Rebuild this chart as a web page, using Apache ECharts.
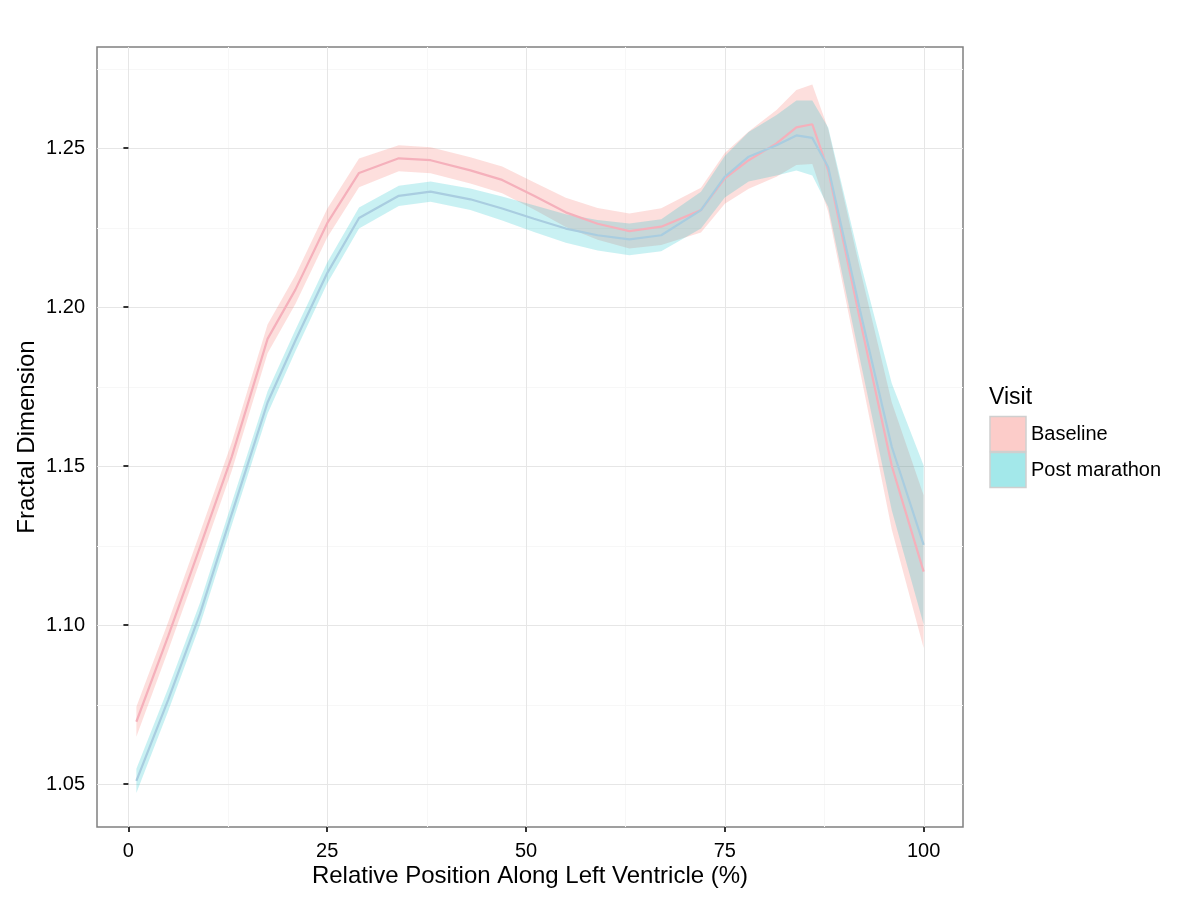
<!DOCTYPE html>
<html>
<head>
<meta charset="utf-8">
<script src="https://cdn.jsdelivr.net/npm/echarts@6/dist/echarts.min.js"></script>
<style>
html,body{margin:0;padding:0;background:#fff;}
#chart{width:1200px;height:900px;}
</style>
</head>
<body>
<div id="chart"></div>
<script>
// ---- data ----
const positions = [1, 5, 9, 13, 17.5, 21, 25, 29, 34, 38, 43, 47, 51, 55, 59, 63, 67, 72, 75, 78, 81.5, 84, 86, 88, 92, 96, 100];
const baselineMean = [1.0696, 1.0965, 1.1245, 1.1530, 1.1900, 1.2055, 1.2264, 1.2422, 1.2468, 1.2462, 1.2430, 1.2400, 1.2350, 1.2298, 1.2262, 1.2239, 1.2253, 1.2305, 1.2405, 1.2462, 1.2515, 1.2565, 1.2575, 1.2430, 1.1960, 1.1500, 1.1168];
const baselineHalfWidth = [0.0047, 0.0045, 0.0045, 0.0045, 0.0045, 0.0045, 0.0045, 0.0045, 0.0041, 0.0041, 0.0041, 0.0042, 0.0043, 0.0046, 0.0050, 0.0055, 0.0058, 0.0070, 0.0080, 0.0090, 0.0105, 0.0118, 0.0125, 0.0130, 0.0160, 0.0200, 0.0240];
const postMean = [1.0510, 1.0765, 1.1035, 1.1350, 1.1700, 1.1895, 1.2107, 1.2280, 1.2350, 1.2363, 1.2339, 1.2310, 1.2278, 1.2247, 1.2226, 1.2213, 1.2226, 1.2305, 1.2410, 1.2473, 1.2509, 1.2540, 1.2532, 1.2440, 1.1990, 1.1560, 1.1252];
const postHalfWidth = [0.0038, 0.0036, 0.0035, 0.0035, 0.0035, 0.0034, 0.0033, 0.0033, 0.0032, 0.0032, 0.0034, 0.0038, 0.0042, 0.0045, 0.0048, 0.0050, 0.0050, 0.0058, 0.0065, 0.0078, 0.0095, 0.0110, 0.0118, 0.0125, 0.0155, 0.0200, 0.0250];
const seriesNames = ['Baseline', 'Post marathon'];
const xTicks = [0, 25, 50, 75, 100];
const xMinor = [12.5, 37.5, 62.5, 87.5];
const yTicks = [1.05, 1.10, 1.15, 1.20, 1.25];
const yMinor = [1.075, 1.125, 1.175, 1.225, 1.275];

// ---- chart ----
const X_MIN = -3.95, X_MAX = 104.95, Y_MIN = 1.0365, Y_MAX = 1.2818;
const FONT = '"Liberation Sans", Arial, Helvetica, sans-serif';

function ribbon(name, mean, hw, fill) {
  return {
    type: 'custom', name: name, coordinateSystem: 'cartesian2d', clip: true, silent: true,
    encode: {x: 0, y: 1},
    data: [[positions[0], mean[0]]],
    renderItem: function (params, api) {
      const pts = [];
      for (let i = 0; i < positions.length; i++) pts.push(api.coord([positions[i], mean[i] + hw[i]]));
      for (let i = positions.length - 1; i >= 0; i--) pts.push(api.coord([positions[i], mean[i] - hw[i]]));
      return {type: 'polygon', shape: {points: pts}, style: {fill: fill}};
    }
  };
}
function meanLine(name, mean, color) {
  return {
    type: 'line', name: name, showSymbol: false, silent: true, clip: true,
    data: positions.map((x, i) => [x, mean[i]]),
    lineStyle: {color: color, width: 2.2},
    itemStyle: {color: color}
  };
}
function gridLines(values, vertical, color) {
  return {
    type: 'custom', coordinateSystem: 'cartesian2d', silent: true, clip: true, z: 0,
    encode: {x: 0, y: 1},
    data: values.map(v => vertical ? [v, Y_MIN] : [X_MIN, v]),
    renderItem: function (params, api) {
      const cs = params.coordSys;
      if (vertical) {
        const x = Math.round(api.coord([api.value(0), Y_MIN])[0]) + 0.5;
        return {type: 'line', shape: {x1: x, y1: cs.y, x2: x, y2: cs.y + cs.height}, style: {stroke: color, lineWidth: 1}};
      } else {
        const y = Math.round(api.coord([X_MIN, api.value(1)])[1]) + 0.5;
        return {type: 'line', shape: {x1: cs.x, y1: y, x2: cs.x + cs.width, y2: y}, style: {stroke: color, lineWidth: 1}};
      }
    }
  };
}

const chart = echarts.init(document.getElementById('chart'), null, {renderer: 'canvas'});
chart.setOption({
  animation: false,
  backgroundColor: '#ffffff',
  grid: {left: 97, top: 47, width: 866, height: 780, show: true, borderColor: '#808080', borderWidth: 1.5, backgroundColor: 'transparent', containLabel: false},
  xAxis: {
    type: 'value', min: X_MIN, max: X_MAX,
    axisLine: {show: false},
    axisTick: {show: true, customValues: xTicks, length: 5, lineStyle: {color: '#333333', width: 2}},
    axisLabel: {show: true, customValues: xTicks, fontSize: 20, color: '#000000', fontFamily: FONT, margin: 14},
    splitLine: {show: false}
  },
  yAxis: {
    type: 'value', min: Y_MIN, max: Y_MAX,
    axisLine: {show: false},
    axisTick: {show: true, customValues: yTicks, length: 5, lineStyle: {color: '#333333', width: 2}},
    axisLabel: {show: true, customValues: yTicks, fontSize: 20, color: '#000000', fontFamily: FONT, margin: 12, formatter: v => Number(v).toFixed(2)},
    splitLine: {show: false}
  },
  series: [
    gridLines(xMinor, true, '#F7F7F7'),
    gridLines(yMinor, false, '#F7F7F7'),
    gridLines(xTicks, true, '#E6E6E6'),
    gridLines(yTicks, false, '#E6E6E6'),
    ribbon(seriesNames[0], baselineMean, baselineHalfWidth, 'rgba(248,118,109,0.23)'),
    meanLine(seriesNames[0], baselineMean, '#F5B0BB'),
    ribbon(seriesNames[1], postMean, postHalfWidth, 'rgba(0,191,196,0.21)'),
    meanLine(seriesNames[1], postMean, '#A9CDE0')
  ],
  graphic: [
    {type: 'text', x: 530, y: 876, style: {text: 'Relative Position Along Left Ventricle (%)', font: '24px ' + FONT, fill: '#000', align: 'center', verticalAlign: 'middle'}},
    {type: 'text', x: 27, y: 437, rotation: Math.PI / 2, style: {text: 'Fractal Dimension', font: '24px ' + FONT, fill: '#000', align: 'center', verticalAlign: 'middle'}},
    {type: 'text', x: 989, y: 398, style: {text: 'Visit', font: '23px ' + FONT, fill: '#000', align: 'left', verticalAlign: 'middle'}},
    {type: 'rect', shape: {x: 990, y: 416.5, width: 36, height: 35}, style: {fill: 'rgba(248,118,109,0.37)', stroke: '#CFCFCF', lineWidth: 1.5}},
    {type: 'rect', shape: {x: 990, y: 452.5, width: 36, height: 35}, style: {fill: 'rgba(0,191,196,0.36)', stroke: '#CFCFCF', lineWidth: 1.5}},
    {type: 'text', x: 1031, y: 434.5, style: {text: seriesNames[0], font: '20px ' + FONT, fill: '#000', align: 'left', verticalAlign: 'middle'}},
    {type: 'text', x: 1031, y: 470.5, style: {text: seriesNames[1], font: '20px ' + FONT, fill: '#000', align: 'left', verticalAlign: 'middle'}}
  ]
});
</script>
</body>
</html>
